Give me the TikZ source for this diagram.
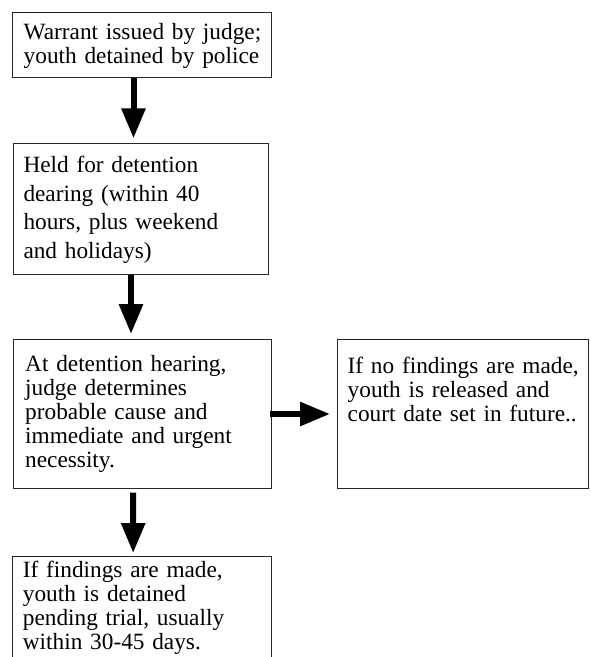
\documentclass[tikz,border=0pt]{standalone}
\usepackage{fontspec}
\setmainfont{Liberation Serif}
\usetikzlibrary{arrows.meta}

\begin{document}
\begin{tikzpicture}[
    x=1pt, y=-1pt,
    cell/.style={
        rectangle,
        draw=black!85,
        line width=1pt,
        inner sep=0pt,
        anchor=north west
    },
    txt/.style={
        anchor=base west,
        inner sep=0pt,
        text width=300pt,
        align=left,
        font=\fontsize{23.3}{24}\selectfont
    },
    flow/.style={
        line width=6pt,
        -{Triangle[length=30pt,width=23pt]}
    }
]

% Page frame
\useasboundingbox (0,0) rectangle (591,657);
\clip (0,0) rectangle (591,657);

% Boxes
\node[cell, minimum width=259pt, minimum height=65pt] (warrant) at (12,12) {};
\node[cell, minimum width=255.5pt, minimum height=131pt] (held) at (12.5,143.3) {};
\node[cell, minimum width=258pt, minimum height=148.4pt] (hearing) at (12.5,339.3) {};
\node[cell, minimum width=251.3pt, minimum height=149pt] (release) at (336.7,339) {};
\node[cell, minimum width=258.7pt, minimum height=130pt] (detain) at (12.3,556) {};

% Box texts
\node[txt] (warrant-t) at (23.5,39) {
    Warrant issued by judge;\\
    youth detained by police
};
\node[txt, font=\fontsize{23.3}{28.5}\selectfont] (held-t) at (23.3,172.7) {
    Held for detention\\
    dearing (within 40\\
    hours, plus weekend\\
    and holidays)
};
\node[txt] (hearing-t) at (25,371.7) {
    At detention hearing,\\
    judge determines\\
    probable cause and\\
    immediate and urgent\\
    necessity.
};
\node[txt] (release-t) at (347.5,373.3) {
    If no findings are made,\\
    youth is released and\\
    court date set in future..
};
\node[txt] (detain-t) at (22.7,577) {
    If findings are made,\\
    youth is detained\\
    pending trial, usually\\
    within 30-45 days.
};

% Arrows
\draw[flow, shorten >=5pt] ([xshift=-8.5pt]warrant.south) -- ([xshift=-7.25pt]held.north);
\draw[flow, shorten >=5.3pt] ([xshift=-9.75pt]held.south) -- ([xshift=-11pt]hearing.north);
\draw[flow, shorten >=6.7pt] ([xshift=-2pt]hearing.east) -- (release.west);
\draw[flow, shorten <=4pt, shorten >=3pt] ([xshift=-8.8pt]hearing.south) -- ([xshift=-9pt]detain.north);

\end{tikzpicture}
\end{document}
